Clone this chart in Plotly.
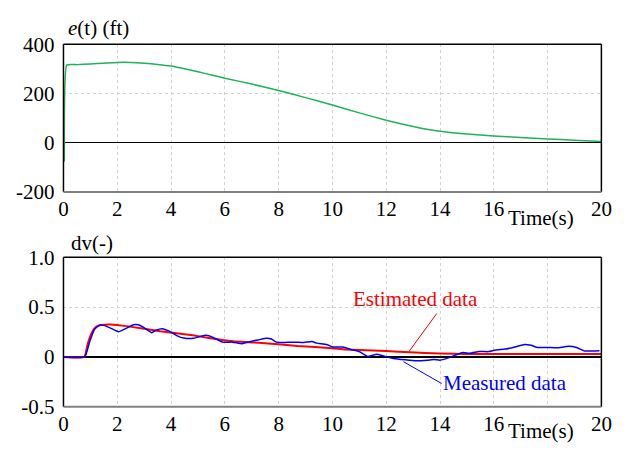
import plotly.graph_objects as go

# ---- data ----
t_e = [0, 0.03, 0.12, 0.5, 1, 1.5, 2, 2.5, 3, 3.5, 4, 4.5, 5, 5.5, 6, 7, 8, 9, 10, 11, 12, 13, 14, 15, 16, 17, 18, 19, 20]
e_vals = [0, -75, 315, 317, 320, 323, 326, 326, 323, 318, 311, 300, 288, 275, 262, 238, 212, 183, 153, 121, 91, 66, 46, 35, 27, 21, 15, 10, 5]

t_est = [0, 0.78, 0.9, 1.05, 1.2, 1.35, 1.5, 1.75, 2.4, 3.6, 4.8, 5.4, 6.3, 7.5, 8.7, 10.0, 10.5, 12.0, 12.9, 14.0, 15.0, 16.0, 18.0, 20.0]
est_vals = [0, 0, 0.13, 0.24, 0.30, 0.318, 0.324, 0.326, 0.307, 0.259, 0.218, 0.19, 0.158, 0.139, 0.11, 0.088, 0.076, 0.06, 0.047, 0.035, 0.03, 0.03, 0.03, 0.03]

t_meas = [0, 0.79, 0.97, 1.15, 1.33, 1.51, 1.75, 2.05, 2.29, 2.6, 2.78, 3.02, 3.28, 3.44, 3.68, 3.93,
          4.23, 4.47, 4.83, 5.07, 5.31, 5.56, 5.92, 6.28, 6.64, 6.76, 7.0, 7.24, 7.55, 7.73, 7.91,
          8.21, 8.57, 8.94, 9.24, 9.42, 9.78, 10.02, 10.39, 10.69, 11.0, 11.3, 11.66, 11.96, 12.26,
          12.56, 12.86, 13.16, 13.53, 13.77, 14.0, 14.31, 14.61, 14.85, 15.1, 15.46, 15.82, 16.06,
          16.43, 16.79, 17.15, 17.39, 17.63, 17.99, 18.36, 18.78, 19.08, 19.38, 19.69, 19.93]
meas_vals = [0, 0, 0.149, 0.275, 0.317, 0.317, 0.29, 0.253, 0.282, 0.323, 0.323, 0.29, 0.244, 0.269, 0.284, 0.259,
             0.212, 0.19, 0.187, 0.206, 0.218, 0.196, 0.149, 0.149, 0.133, 0.142, 0.158, 0.171, 0.187, 0.18, 0.149,
             0.146, 0.149, 0.146, 0.155, 0.139, 0.126, 0.1, 0.101, 0.076, 0.054, 0.006, 0.028, 0.006, -0.016,
             -0.025, -0.032, -0.038, -0.032, -0.025, -0.032, -0.009, 0.022, 0.044, 0.038, 0.054, 0.054, 0.07,
             0.079, 0.101, 0.126, 0.117, 0.095, 0.095, 0.092, 0.107, 0.095, 0.06, 0.06, 0.063]

x_tickvals = [0, 2, 4, 6, 8, 10, 12, 14, 16, 18, 20]
x_ticktext = ["0", "2", "4", "6", "8", "10", "12", "14", "16", "", "20"]
y1_tickvals = [-200, 0, 200, 400]
y1_ticktext = ["-200", "0", "200", "400"]
y2_tickvals = [-0.5, 0, 0.5, 1.0]
y2_ticktext = ["-0.5", "0", "0.5", "1.0"]

W, H = 627, 452
FONT = "Liberation Serif"
FS = 21

def px(x):
    return x / W

def py(y):
    return 1 - y / H

fig = go.Figure()
fig.add_trace(go.Scatter(x=t_e, y=e_vals, mode="lines", line=dict(color="#1fb25a", width=1.5, shape="spline", smoothing=0.4),
                         xaxis="x", yaxis="y", showlegend=False, hoverinfo="skip"))
fig.add_trace(go.Scatter(x=t_est, y=est_vals, mode="lines", line=dict(color="#ff0000", width=2, shape="spline", smoothing=0.3),
                         xaxis="x2", yaxis="y2", showlegend=False, hoverinfo="skip"))
fig.add_trace(go.Scatter(x=t_meas, y=meas_vals, mode="lines", line=dict(color="#0000ff", width=1.5, shape="spline", smoothing=0.4),
                         xaxis="x2", yaxis="y2", showlegend=False, hoverinfo="skip"))

xcommon = dict(range=[0, 20], tickvals=x_tickvals, ticktext=x_ticktext, showgrid=True,
               gridcolor="#d2d2d2", griddash="dot", gridwidth=1, zeroline=False, ticks="",
               showline=False, tickfont=dict(family=FONT, size=FS, color="black"), fixedrange=True,
               ticklabelstandoff=2)
ycommon = dict(showgrid=True, gridcolor="#d2d2d2", griddash="dot", gridwidth=1, zeroline=True,
               zerolinecolor="black", zerolinewidth=1.2, ticks="", showline=False,
               tickfont=dict(family=FONT, size=FS, color="black"), fixedrange=True,
               ticklabelstandoff=8)

fig.update_layout(
    width=W, height=H, margin=dict(l=0, r=0, t=0, b=0),
    paper_bgcolor="white", plot_bgcolor="white",
    font=dict(family=FONT, size=FS, color="black"),
    xaxis=dict(domain=[px(60), px(612)], anchor="y", **xcommon),
    yaxis=dict(domain=[py(190), py(34)], anchor="x", range=[-200, 400],
               tickvals=y1_tickvals, ticktext=y1_ticktext, **ycommon),
    xaxis2=dict(domain=[px(60), px(612)], anchor="y2", **xcommon),
    yaxis2=dict(domain=[py(417), py(259)], anchor="x2", range=[-0.5, 1.0],
                tickvals=y2_tickvals, ticktext=y2_ticktext, **ycommon),
)

shapes = []
for xr, yr in (("x domain", "y domain"), ("x2 domain", "y2 domain")):
    shapes.append(dict(type="line", xref=xr, yref=yr, x0=0, x1=1, y0=1, y1=1, line=dict(color="black", width=1.5)))
    shapes.append(dict(type="line", xref=xr, yref=yr, x0=0, x1=0, y0=0, y1=1, line=dict(color="black", width=1.5)))
    shapes.append(dict(type="line", xref=xr, yref=yr, x0=1, x1=1, y0=0, y1=1, line=dict(color="black", width=1.5)))
    shapes.append(dict(type="line", xref=xr, yref=yr, x0=0, x1=1, y0=0, y1=0, line=dict(color="#808080", width=2)))
# annotation leader lines
shapes.append(dict(type="line", xref="x2", yref="y2", x0=13.88, y0=0.436, x1=12.86, y1=0.06,
                   line=dict(color="#ff0000", width=1)))
shapes.append(dict(type="line", xref="x2", yref="y2", x0=14.06, y0=-0.266, x1=12.64, y1=-0.047,
                   line=dict(color="#0000ff", width=1)))
fig.update_layout(shapes=shapes)

ann = [
    dict(text="<i>e</i>(t) (ft)", x=px(63), y=py(17), xanchor="left", yanchor="middle"),
    dict(text="dv(-)", x=px(66), y=py(244), xanchor="left", yanchor="middle"),
    dict(text="Time(s)", x=px(550), y=py(218), xanchor="center", yanchor="middle"),
    dict(text="Time(s)", x=px(550), y=py(442), xanchor="center", yanchor="middle"),
]
for a in ann:
    fig.add_annotation(xref="paper", yref="paper", showarrow=False,
                       font=dict(family=FONT, size=FS, color="black"), **a)
fig.add_annotation(xref="x2", yref="y2", x=13.08, y=0.58, text="Estimated data", showarrow=False,
                   font=dict(family=FONT, size=FS, color="#ff0000"))
fig.add_annotation(xref="x2", yref="y2", x=16.41, y=-0.256, text="Measured data", showarrow=False,
                   font=dict(family=FONT, size=FS, color="#0000ff"))

fig.write_html("out.html", config={"displayModeBar": False, "staticPlot": True},
               post_script="document.body.style.margin='0';document.body.style.overflow='hidden';")
